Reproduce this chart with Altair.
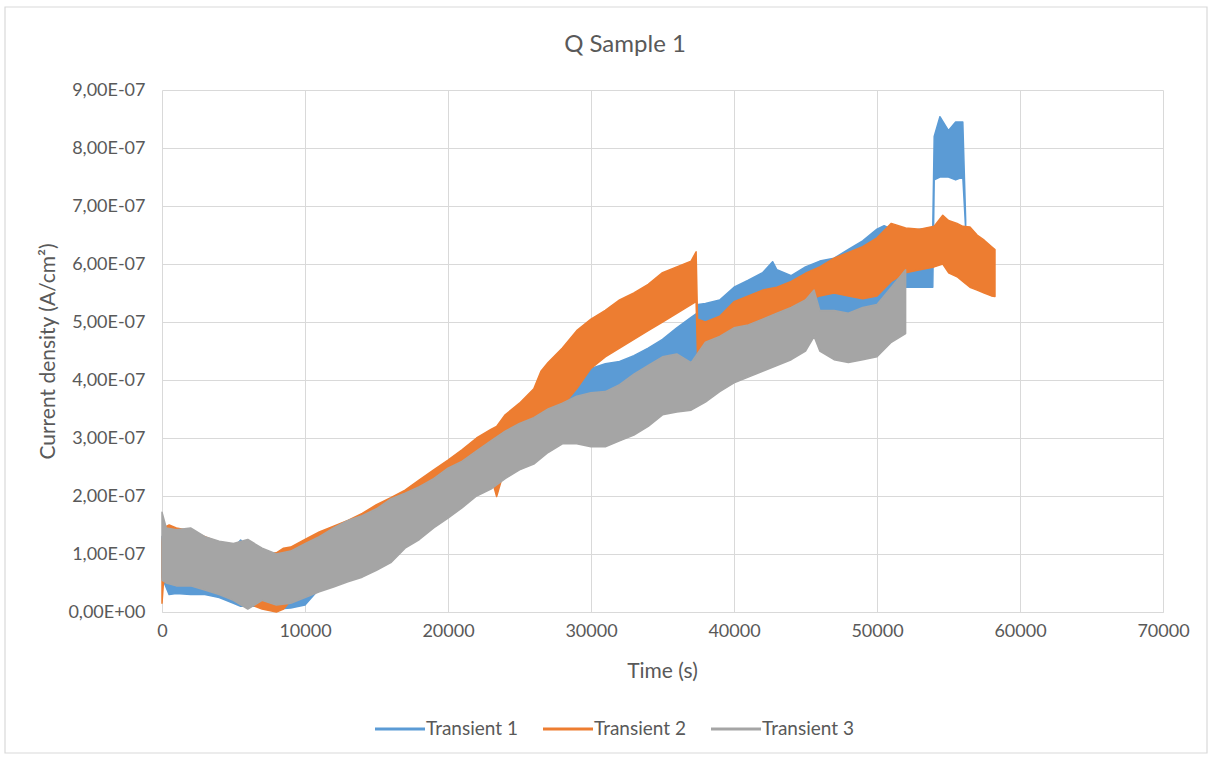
import altair as alt
import pandas as pd

# Current density transients, sample Q1.
# Each transient is a dense, noisy trace; it is drawn as the band between its
# lower and upper envelope (values in units of 1e-7 A/cm²) against time (s).

t1 = [0, 500, 1000, 2000, 3000, 4000, 5000, 5500, 6000,
      7000, 8000, 9000, 10000, 11000, 12000, 13000, 14000, 15000, 16000, 17000,
      18000, 19000, 20000, 21000, 22000, 23000, 24000, 25000, 26000, 27000,
      28000, 29000, 30000, 31000, 32000, 33000, 34000, 35000, 36000, 37000,
      37400, 37500, 38000, 39000, 40000, 41000, 42000, 42700,
      43000, 44000, 45000, 46000, 47000, 48000, 49000, 50000, 50500,
      51000, 52000, 53000, 53900, 54000, 54400, 55000, 55500, 56000, 56200]
hi1 = [1.30, 1.30, 1.30, 1.35, 1.25, 1.15, 1.10, 1.24, 1.10,
       1.00, 0.95, 1.00, 1.10, 1.25, 1.40, 1.50, 1.60, 1.72, 1.88, 2.00,
       2.12, 2.30, 2.55, 2.68, 2.82, 2.98, 3.20, 3.30, 3.40, 3.55,
       3.85, 4.05, 4.20, 4.28, 4.32, 4.42, 4.55, 4.70, 4.90, 5.08,
       5.15, 5.30, 5.32, 5.38, 5.60, 5.72, 5.85, 6.04,
       5.90, 5.80, 5.95, 6.05, 6.10, 6.25, 6.40, 6.60, 6.66,
       6.60, 6.55, 6.60, 6.62, 8.20, 8.54, 8.30, 8.45, 8.45, 6.76]
lo1 = [0.60, 0.30, 0.32, 0.30, 0.30, 0.25, 0.15, 0.10, 0.10,
       0.10, 0.05, 0.07, 0.12, 0.40, 0.50, 0.60, 0.70, 0.85, 1.00, 1.20,
       1.35, 1.55, 1.75, 1.90, 2.05, 2.20, 2.35, 2.55, 2.75, 3.00,
       3.20, 3.45, 3.60, 3.70, 3.75, 3.80, 3.90, 4.00, 4.10, 4.20,
       4.25, 4.30, 4.30, 4.35, 4.45, 4.55, 4.60, 4.70,
       4.75, 4.85, 4.95, 5.05, 5.10, 5.10, 5.10, 5.30, 5.35,
       5.55, 5.60, 5.60, 5.60, 7.45, 7.50, 7.50, 7.45, 7.50, 6.60]

t2 = [0, 100, 500, 1000, 2000, 3000, 4000, 5000, 6000, 6500, 7000, 8000, 8500, 9000,
      10000, 11000, 12000, 13000, 14000, 15000, 16000, 17000, 18000, 19000, 20000,
      21000, 22000, 23000, 23400, 24000, 25000, 26000, 26500,
      27000, 28000, 29000, 30000, 31000, 32000, 33000, 34000, 35000, 36000, 37000,
      37350, 37450,
      38000, 39000, 40000, 41000, 42000, 43000, 44000, 45000, 46000, 47000, 48000,
      49000, 50000, 51000, 52000, 53000, 54000,
      54600, 55000, 55600, 56000, 56500, 57000, 57500, 58000, 58250]
hi2 = [1.20, 1.45, 1.50, 1.45, 1.40, 1.30, 1.20, 1.10, 1.00, 0.95, 1.00, 1.02, 1.10, 1.12,
       1.25, 1.38, 1.48, 1.58, 1.70, 1.85, 1.97, 2.10, 2.28, 2.45, 2.62,
       2.80, 3.00, 3.15, 3.20, 3.40, 3.60, 3.85, 4.15,
       4.30, 4.55, 4.85, 5.05, 5.20, 5.38, 5.50, 5.65, 5.85, 5.95, 6.05,
       6.21, 5.05,
       5.00, 5.10, 5.35, 5.45, 5.55, 5.60, 5.70, 5.84, 5.95, 6.10, 6.20,
       6.30, 6.45, 6.70, 6.62, 6.60, 6.65,
       6.84, 6.75, 6.70, 6.65, 6.64, 6.50, 6.41, 6.30, 6.25]
lo2 = [0.15, 0.50, 0.55, 0.50, 0.50, 0.45, 0.35, 0.30, 0.20, 0.10, 0.05, 0.00, 0.05, 0.20,
       0.30, 0.40, 0.50, 0.60, 0.70, 0.85, 1.00, 1.20, 1.40, 1.60, 1.80,
       2.00, 2.20, 2.35, 1.99, 2.50, 2.65, 2.80, 2.90,
       3.10, 3.55, 3.85, 4.20, 4.40, 4.55, 4.70, 4.85, 5.00, 5.15, 5.30,
       5.35, 4.40,
       4.45, 4.60, 4.80, 4.95, 5.05, 5.15, 5.25, 5.35, 5.45, 5.50, 5.45,
       5.40, 5.45, 5.70, 5.85, 5.90, 5.95,
       6.00, 5.85, 5.78, 5.70, 5.60, 5.55, 5.50, 5.45, 5.44]

t3 = [0, 300, 1000, 2000, 3000, 4000, 5000, 6000, 7000, 8000, 9000, 10000,
      11000, 12000, 13000, 14000, 15000, 16000, 17000, 18000, 19000, 20000,
      21000, 22000, 23000, 24000, 25000, 26000, 27000, 28000, 29000, 30000,
      31000, 32000, 33000, 34000, 35000, 36000, 37000, 38000, 39000, 40000,
      41000, 42000, 43000, 44000, 45000, 45600, 46000, 47000, 48000, 49000,
      50000, 51000, 52000]
hi3 = [1.72, 1.45, 1.42, 1.45, 1.30, 1.22, 1.18, 1.25, 1.10, 1.00, 1.05, 1.18,
       1.30, 1.45, 1.58, 1.66, 1.78, 1.95, 2.05, 2.16, 2.30, 2.48,
       2.60, 2.78, 2.95, 3.12, 3.25, 3.35, 3.50, 3.60, 3.72, 3.78,
       3.80, 3.92, 4.10, 4.25, 4.40, 4.45, 4.30, 4.65, 4.75, 4.90,
       4.95, 5.05, 5.15, 5.25, 5.38, 5.55, 5.20, 5.20, 5.15, 5.25,
       5.30, 5.60, 5.90]
lo3 = [0.55, 0.50, 0.45, 0.45, 0.38, 0.30, 0.20, 0.05, 0.20, 0.12, 0.15, 0.25,
       0.35, 0.43, 0.52, 0.60, 0.72, 0.85, 1.10, 1.25, 1.45, 1.62,
       1.80, 2.00, 2.12, 2.30, 2.45, 2.55, 2.75, 2.90, 2.90, 2.85,
       2.85, 2.95, 3.05, 3.20, 3.40, 3.45, 3.48, 3.62, 3.80, 3.95,
       4.05, 4.15, 4.25, 4.35, 4.50, 4.75, 4.50, 4.35, 4.30, 4.35,
       4.40, 4.65, 4.80]

series = ["Transient 1", "Transient 2", "Transient 3"]
colors = ["#5b9bd5", "#ed7d31", "#a5a5a5"]

FONT = "Lato"
TEXT = "#595959"
GRID = "#d9d9d9"


def band(name, t, lo, hi):
    return pd.DataFrame({
        "series": name,
        "time": t,
        "low": [v * 1e-7 for v in lo],
        "high": [v * 1e-7 for v in hi],
    })


bands = [band(series[0], t1, lo1, hi1),
         band(series[1], t2, lo2, hi2),
         band(series[2], t3, lo3, hi3)]

x_scale = alt.Scale(domain=[0, 70000], nice=False, zero=False)
y_scale = alt.Scale(domain=[0, 9e-7], nice=False)

x_axis = alt.Axis(
    values=list(range(0, 70001, 10000)), format="d",
    title="Time (s)", titleX=500, titleY=59, titleBaseline="middle",
    titleFont=FONT, titleFontSize=21, titleFontWeight="normal", titleColor=TEXT,
    labelFont=FONT, labelFontSize=18, labelColor=TEXT, labelPadding=10,
    labelFlush=False, labelOverlap=False,
    grid=True, gridColor=GRID, gridWidth=1, ticks=False,
    domain=True, domainColor=GRID, domainWidth=1,
)
y_axis = alt.Axis(
    values=[i * 1e-7 for i in range(10)],
    labelExpr="datum.value == 0 ? '0,00E+00' : format(datum.value * 1e7, '.0f') + ',00E-07'",
    title="Current density (A/cm²)", titleX=-114, titleY=261,
    titleAngle=270, titleAlign="center", titleBaseline="middle",
    titleFont=FONT, titleFontSize=21, titleFontWeight="normal", titleColor=TEXT,
    labelFont=FONT, labelFontSize=18, labelColor=TEXT, labelPadding=17,
    labelFlush=False, labelOverlap=False,
    grid=True, gridColor=GRID, gridWidth=1, ticks=False, domain=False,
)

one = pd.DataFrame({"k": [0]})

# outer chart-area border
frame = alt.Chart(one).mark_rect(filled=False, stroke=GRID, strokeWidth=1.2).encode(
    x=alt.value(-157), x2=alt.value(1045), y=alt.value(-83), y2=alt.value(663)
)

layers = [frame]
for df, col in zip(bands, colors):
    layers.append(
        alt.Chart(df).mark_area(
            color=col, stroke=col, strokeWidth=1.5, strokeJoin="round",
            interpolate="linear", opacity=1,
        ).encode(
            x=alt.X("time:Q", scale=x_scale, axis=x_axis),
            y=alt.Y("low:Q", scale=y_scale, axis=y_axis),
            y2="high:Q",
        )
    )

title = alt.Chart(one).mark_text(
    font=FONT, fontSize=24, color=TEXT, align="center", baseline="middle"
).encode(x=alt.value(463), y=alt.value(-45), text=alt.value("Q Sample 1"))
layers.append(title)

# legend row under the plot
for i, (name, col) in enumerate(zip(series, colors)):
    x0 = 213 + 168 * i
    layers.append(
        alt.Chart(one).mark_rule(color=col, strokeWidth=3).encode(
            x=alt.value(x0), x2=alt.value(x0 + 50), y=alt.value(639)
        )
    )
    layers.append(
        alt.Chart(one).mark_text(
            font=FONT, fontSize=19, color=TEXT, align="left", baseline="middle"
        ).encode(x=alt.value(x0 + 51), y=alt.value(639), text=alt.value(name))
    )

chart = alt.layer(*layers).properties(
    width=1001,
    height=522,
    autosize=alt.AutoSizeParams(type="none"),
    padding={"left": 162, "top": 90, "right": 48, "bottom": 146},
    background="white",
).configure_view(strokeWidth=0)

chart.save("out.html", embed_options={"renderer": "svg", "actions": False})
